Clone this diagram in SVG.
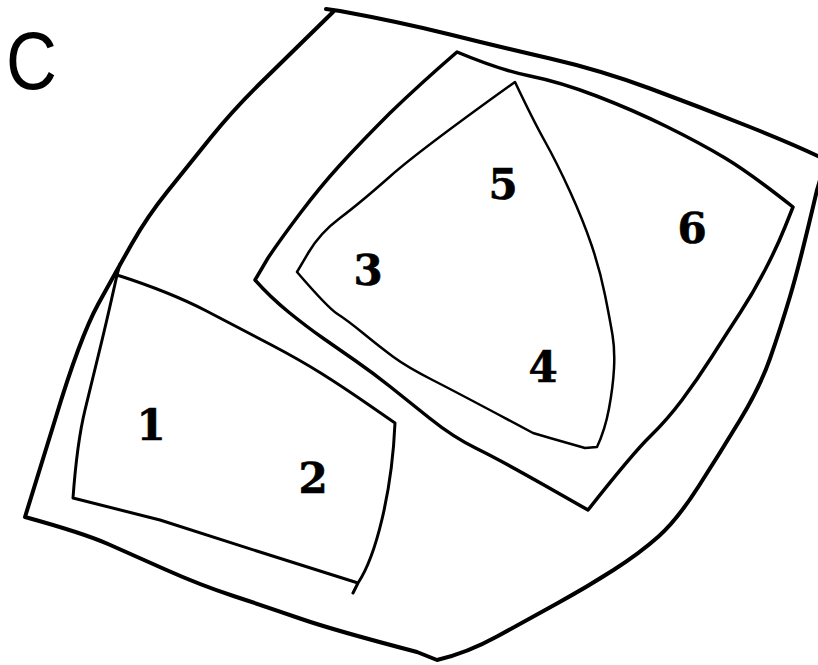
<svg xmlns="http://www.w3.org/2000/svg" width="818" height="665" viewBox="0 0 818 665">
<style>
.ln{fill:none;stroke:#000;stroke-linejoin:round;stroke-linecap:round}
.num{font-family:"DejaVu Serif","Liberation Serif",serif;font-weight:bold;font-size:42px;text-anchor:middle;fill:#000;stroke:#000;stroke-width:0.6}
.lab{font-family:"Liberation Sans",Arial,sans-serif;font-size:82px;fill:#000}
</style>
<rect width="818" height="665" fill="#fff"/>
<g id="outer">
<path class="ln" stroke-width="4" d="M25,517 L55,420 Q80,337 98.5,303.5 Q117,270 132,243.5 Q147,217 167,192 Q187,167 210,138.5 Q233,110 260,83.5 Q287,57 333,12 M326,9 L340,11 Q400,22 450,34.5 Q500,47 550,58.5 Q600,70 650,88.5 Q700,107 750,127 Q800,147 826,160 L817,190 Q800,263 790,296.5 Q780,330 770,358.5 Q760,387 740,420 Q720,453 698.5,486.5 Q677,520 658.5,536.5 Q640,553 613.5,570 Q587,587 557,603.5 Q527,620 497,636.5 Q467,653 437,660 L417,652 Q333,630 300,618.5 Q267,607 233.5,596 Q200,585 166.5,570 Q133,555 108,544 Q83,533 25,517"/>
</g>
<g id="box-1-2">
<path class="ln" stroke-width="3" d="M120,264 L117,275 Q107,320 100,348.5 Q93,377 85,410 Q77,443 73,498 L160,520 L260,552 L358,583 M353,593 L358,583 C376,556 392,492 395,423 L369,405 Q343,387 321.5,373.5 Q300,360 271.5,345 Q243,330 206.5,311 Q170,292 117,275"/>
</g>
<g id="region-3-6">
<path class="ln" stroke-width="3.5" d="M457,52 Q500,70 530,76 Q560,82 596.5,96 Q633,110 666.5,126.5 Q700,143 725,158 Q750,173 793,207 L785,227 Q777,247 765,270 Q753,293 740,313 Q727,333 712,356.5 Q697,380 682,400 Q667,420 650,436.5 Q633,453 588,510 L544,485 Q500,460 476.5,448.5 Q453,437 430,418.5 Q407,400 390,386.5 Q373,373 356.5,361.5 Q340,350 323.5,338.5 Q307,327 288.5,312 Q270,297 255,280 L268,258 Q280,240 300,213.5 Q320,187 340,165 Q360,143 390,113 Q420,84 457,52 Z"/>
</g>
<g id="region-3-4-5">
<path class="ln" stroke-width="2.5" d="M515,82 Q533,120 545,141.5 Q557,163 570,191.5 Q583,220 591.5,245 Q600,270 605,295 Q610,320 612.5,335 Q615,350 614,368.5 Q613,387 609,408.5 Q605,430 597,447 L585,448 L550,438 L533,433 Q460,394 433.5,380.5 Q407,367 393.5,357 Q380,347 363.5,333.5 Q347,320 337.5,314 Q328,308 297,272 L308.5,252.5 Q320,233 340,218 Q360,203 390,176.5 Q420,150 515,82 Z"/>
</g>
<g id="labels">
<text class="lab" transform="translate(6,89) scale(0.86,1)">C</text>
<text class="num" x="151" y="440">1</text>
<text class="num" x="313" y="493">2</text>
<text class="num" x="368" y="285">3</text>
<text class="num" x="543" y="382">4</text>
<text class="num" x="503" y="199">5</text>
<text class="num" x="692" y="243">6</text>
</g>
</svg>
